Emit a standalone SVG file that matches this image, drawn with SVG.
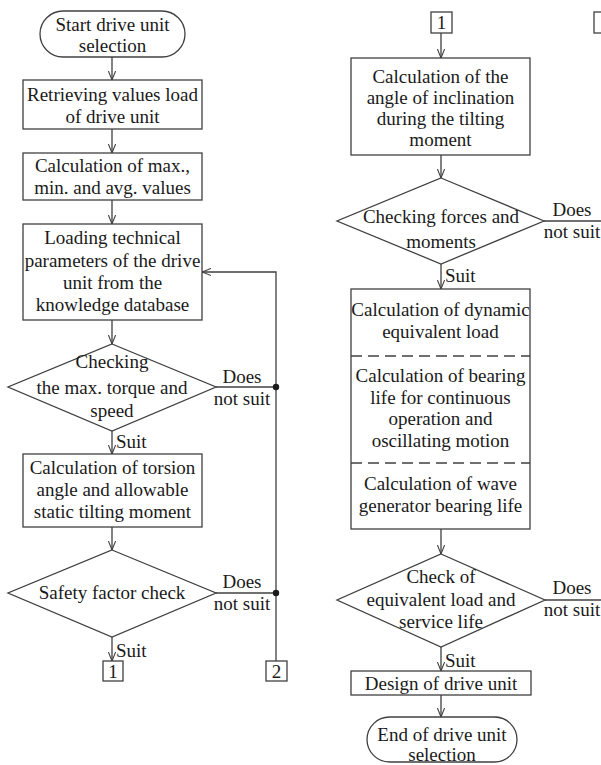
<svg xmlns="http://www.w3.org/2000/svg" width="601" height="765" viewBox="0 0 601 765">
  <style>
    .shape { fill: #ffffff; stroke: #404040; stroke-width: 1.3; }
    .line { fill: none; stroke: #404040; stroke-width: 1.3; }
    .dash { fill: none; stroke: #404040; stroke-width: 1.3; stroke-dasharray: 11 6; }
    text { font-family: "Liberation Serif", "Times New Roman", serif; font-size: 19px; fill: #1a1a1a; text-anchor: middle; }
    text.lbl { text-anchor: start; }
  </style>
  <defs>
    <marker id="arrow" viewBox="0 0 10 10" refX="10" refY="5" markerWidth="9" markerHeight="9" markerUnits="userSpaceOnUse" orient="auto">
      <path d="M0,1 L10,5 L0,9" fill="none" stroke="#404040" stroke-width="1.2"/>
    </marker>
  </defs>

  <!-- connectors -->
  <g id="connectors">
    <!-- left column -->
    <line class="line" x1="112" y1="57" x2="112" y2="80" marker-end="url(#arrow)"/>
    <line class="line" x1="112" y1="129" x2="112" y2="153" marker-end="url(#arrow)"/>
    <line class="line" x1="112" y1="200" x2="112" y2="224" marker-end="url(#arrow)"/>
    <line class="line" x1="112" y1="320" x2="112" y2="344" marker-end="url(#arrow)"/>
    <line class="line" x1="112" y1="431" x2="112" y2="454" marker-end="url(#arrow)"/>
    <line class="line" x1="112" y1="527" x2="112" y2="550" marker-end="url(#arrow)"/>
    <line class="line" x1="112" y1="637" x2="112" y2="661" marker-end="url(#arrow)"/>
    <!-- rejection branches and loop back -->
    <line class="line" x1="216" y1="387" x2="276" y2="387"/>
    <line class="line" x1="216" y1="593" x2="276" y2="593"/>
    <polyline class="line" points="276,661 276,272 202,272" marker-end="url(#arrow)"/>
    <circle cx="276" cy="387" r="3.2" fill="#1a1a1a"/>
    <circle cx="276" cy="593" r="3.2" fill="#1a1a1a"/>
    <!-- right column -->
    <line class="line" x1="441" y1="33" x2="441" y2="58" marker-end="url(#arrow)"/>
    <line class="line" x1="441" y1="155" x2="441" y2="178" marker-end="url(#arrow)"/>
    <line class="line" x1="441" y1="264" x2="441" y2="289" marker-end="url(#arrow)"/>
    <line class="line" x1="441" y1="529" x2="441" y2="554" marker-end="url(#arrow)"/>
    <line class="line" x1="441" y1="647" x2="441" y2="671" marker-end="url(#arrow)"/>
    <line class="line" x1="441" y1="695" x2="441" y2="717" marker-end="url(#arrow)"/>
    <line class="line" x1="544" y1="221" x2="601" y2="221"/>
    <line class="line" x1="545" y1="600" x2="601" y2="600"/>
    <!-- branch labels -->
    <text class="lbl" x="116" y="448">Suit</text>
    <text class="lbl" x="116" y="657">Suit</text>
    <text class="lbl" x="445" y="282">Suit</text>
    <text class="lbl" x="445" y="667">Suit</text>
    <text x="242" y="383">Does</text>
    <text x="242" y="405">not suit</text>
    <text x="242" y="588">Does</text>
    <text x="242" y="610">not suit</text>
    <text x="572" y="216">Does</text>
    <text x="572" y="238">not suit</text>
    <text x="572" y="594">Does</text>
    <text x="572" y="616">not suit</text>
  </g>

  <!-- left column nodes -->
  <g id="start">
    <rect class="shape" x="40" y="11" width="145" height="46" rx="23" ry="23"/>
    <text x="112.5" y="31">Start drive unit</text>
    <text x="112.5" y="52">selection</text>
  </g>
  <g id="retrieve">
    <rect class="shape" x="23" y="80" width="179" height="49"/>
    <text x="112.5" y="101">Retrieving values load</text>
    <text x="112.5" y="123">of drive unit</text>
  </g>
  <g id="extremes">
    <rect class="shape" x="23" y="153" width="179" height="47"/>
    <text x="112.5" y="172">Calculation of max.,</text>
    <text x="112.5" y="194">min. and avg. values</text>
  </g>
  <g id="loading">
    <rect class="shape" x="23" y="224" width="179" height="96"/>
    <text x="112.5" y="244">Loading technical</text>
    <text x="112.5" y="267">parameters of the drive</text>
    <text x="112.5" y="289">unit from the</text>
    <text x="112.5" y="311">knowledge database</text>
  </g>
  <g id="check-torque">
    <polygon class="shape" points="112,344 216,387 112,431 8,387"/>
    <text x="112" y="368">Checking</text>
    <text x="112" y="394">the max. torque and</text>
    <text x="112" y="417">speed</text>
  </g>
  <g id="torsion">
    <rect class="shape" x="23" y="454" width="179" height="73"/>
    <text x="112.5" y="474">Calculation of torsion</text>
    <text x="112.5" y="496">angle and allowable</text>
    <text x="112.5" y="518">static tilting moment</text>
  </g>
  <g id="safety">
    <polygon class="shape" points="112,550 216,593 112,637 8,593"/>
    <text x="112" y="599">Safety factor check</text>
  </g>
  <g id="link1-out">
    <rect class="shape" x="103" y="661" width="20" height="20"/>
    <text x="113" y="678">1</text>
  </g>
  <g id="link2-out">
    <rect class="shape" x="266" y="661" width="21" height="20"/>
    <text x="276.5" y="678">2</text>
  </g>

  <!-- right column nodes -->
  <g id="link1-in">
    <rect class="shape" x="431" y="12" width="21" height="21"/>
    <text x="441.5" y="29">1</text>
  </g>
  <g id="link2-in">
    <rect class="shape" x="594" y="12" width="21" height="21"/>
  </g>
  <g id="inclination">
    <rect class="shape" x="351" y="58" width="179" height="97"/>
    <text x="440.5" y="83">Calculation of the</text>
    <text x="440.5" y="104">angle of inclination</text>
    <text x="440.5" y="125">during the tilting</text>
    <text x="440.5" y="146">moment</text>
  </g>
  <g id="check-forces">
    <polygon class="shape" points="441,178 544,221 441,264 337,221"/>
    <text x="441" y="223">Checking forces and</text>
    <text x="441" y="248">moments</text>
  </g>
  <g id="bearing-calc">
    <rect class="shape" x="351" y="289" width="179" height="240"/>
    <line class="dash" x1="351" y1="356" x2="530" y2="356"/>
    <line class="dash" x1="351" y1="463" x2="530" y2="463"/>
    <text x="440.5" y="316">Calculation of dynamic</text>
    <text x="440.5" y="338">equivalent load</text>
    <text x="440.5" y="382">Calculation of bearing</text>
    <text x="440.5" y="404">life for continuous</text>
    <text x="440.5" y="425">operation and</text>
    <text x="440.5" y="447">oscillating motion</text>
    <text x="440.5" y="490">Calculation of wave</text>
    <text x="440.5" y="512">generator bearing life</text>
  </g>
  <g id="check-life">
    <polygon class="shape" points="441,554 545,600 441,647 337,600"/>
    <text x="441" y="583">Check of</text>
    <text x="441" y="606">equivalent load and</text>
    <text x="441" y="628">service life</text>
  </g>
  <g id="design">
    <rect class="shape" x="351" y="671" width="180" height="24"/>
    <text x="441" y="690">Design of drive unit</text>
  </g>
  <g id="end">
    <rect class="shape" x="367" y="717" width="150" height="45" rx="22.5" ry="22.5"/>
    <text x="442" y="741">End of drive unit</text>
    <text x="442" y="761">selection</text>
  </g>
</svg>
